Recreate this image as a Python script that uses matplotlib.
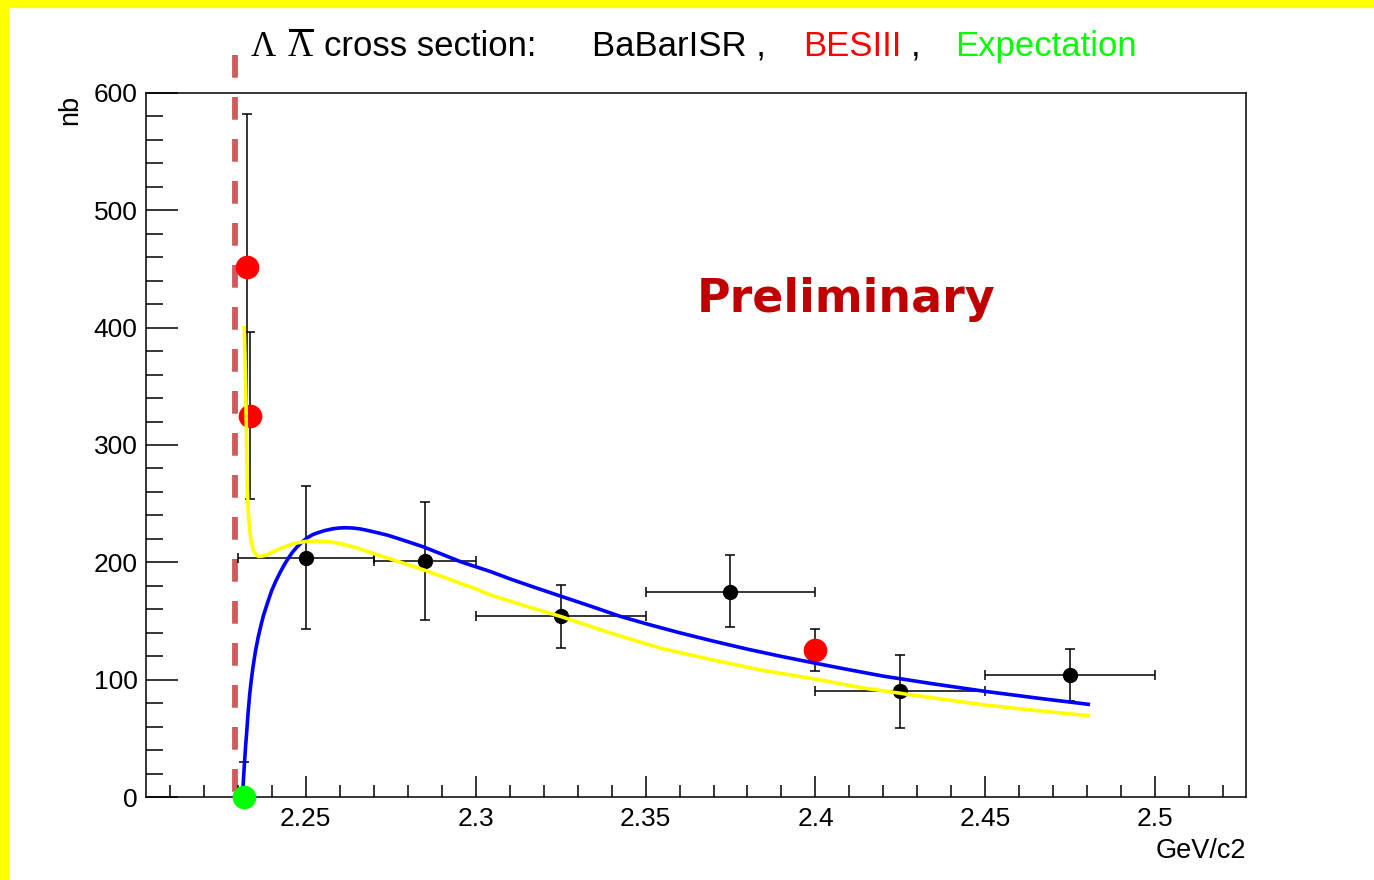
import numpy as np
import matplotlib.pyplot as plt
from matplotlib.patches import Rectangle
from matplotlib.lines import Line2D

plt.rcParams['font.family'] = ['Liberation Sans', 'DejaVu Sans']

W, H = 1374, 880

# BaBar ISR measurements (nb vs GeV/c2)
babar_x = [2.2318, 2.25, 2.285, 2.325, 2.375, 2.425, 2.475]
babar_y = [0, 204, 201, 154, 175, 90, 104]
babar_ylo = [0, 61, 50, 27, 30, 31, 22]
babar_yhi = [30, 61, 50, 27, 31, 31, 22]
babar_xerr = [0, 0.02, 0.015, 0.025, 0.025, 0.025, 0.025]

# BESIII points
bes_x = [2.2326, 2.2336, 2.4]
bes_y = [452, 325, 125]
bes_err = [130, 71, 18]

# expectation at threshold
exp_x = [2.2318]
exp_y = [0]

# model curves
blue_x = [2.2313, 2.2315, 2.2317, 2.2320, 2.2323, 2.2326, 2.2330, 2.2335,
          2.2340, 2.2345, 2.2352, 2.2360, 2.2368, 2.2375, 2.2387, 2.2400,
          2.2412, 2.2424, 2.2437, 2.2450, 2.2462, 2.2474, 2.2490, 2.2505,
          2.2520, 2.2533, 2.2555, 2.2580, 2.2600, 2.2616, 2.2640, 2.2660,
          2.2685, 2.2700, 2.2740, 2.2775, 2.2810, 2.2848, 2.2900, 2.2956,
          2.3000, 2.3045, 2.3100, 2.3170, 2.3252, 2.3340, 2.3425, 2.3510,
          2.3600, 2.3700, 2.3800, 2.3900, 2.4000, 2.4100, 2.4200, 2.4350,
          2.4500, 2.4650, 2.4803]
blue_y = [0, 6, 16, 30, 43, 54, 70, 87, 100, 111, 124, 136, 146, 154, 165,
          176, 184, 191, 198, 204, 209, 213, 217.5, 221, 223.5, 225, 227,
          228.6, 229.3, 229.5, 229.2, 228.5, 227, 226, 223.2, 220, 216.7, 213,
          207, 200.5, 196.3, 192, 186, 179, 171, 162.5, 154, 147, 140, 132.8,
          126, 119.8, 114, 108.4, 103, 96.3, 90, 84.4, 79]

yellow_x = [2.2319, 2.2321, 2.2322, 2.2324, 2.2325, 2.2327, 2.2328, 2.2331,
            2.2336, 2.2341, 2.2346, 2.2353, 2.2361, 2.2372, 2.2385, 2.2405,
            2.2430, 2.2464, 2.2500, 2.2533, 2.2570, 2.2602, 2.2650, 2.2700,
            2.2775, 2.2848, 2.2900, 2.2956, 2.3000, 2.3045, 2.3150, 2.3252,
            2.3400, 2.3547, 2.3700, 2.3843, 2.4000, 2.4138, 2.4200, 2.4300,
            2.4493, 2.4650, 2.4803]
yellow_y = [400, 378, 365, 340, 320, 290, 262, 242, 225, 216, 210, 207, 205,
            205.3, 206.3, 209, 212.3, 216, 217.8, 218.2, 217.6, 216, 212.3,
            207.5, 200.5, 193.5, 188, 182, 177.5, 172, 162.5, 153.7, 139.5,
            126.6, 116.7, 108, 100.5, 93, 90.5, 86.3, 78.6, 73.7, 69.3]

xtick_vals = [2.25, 2.3, 2.35, 2.4, 2.45, 2.5]
xtick_labels = ['2.25', '2.3', '2.35', '2.4', '2.45', '2.5']
threshold = 2.2291


def fx(px):
    return px / W


def fy(py):
    return 1 - py / H


fig = plt.figure(figsize=(13.74, 8.8), dpi=100)
ax = fig.add_axes([fx(146), fy(797), 1100 / W, 704 / H])

# threshold marker
ax.plot([threshold, threshold], [632, 0], color='#cd5c5c', lw=4.2,
        dashes=(3.9, 3.3), clip_on=False, zorder=1)

ax.errorbar(babar_x, babar_y, yerr=[babar_ylo, babar_yhi], xerr=babar_xerr,
            fmt='o', color='black', ms=10, elinewidth=1.1, capsize=3.5,
            capthick=1.1, zorder=3)
ax.errorbar(bes_x, bes_y, yerr=bes_err, fmt='o', mfc='red', mec='red',
            ecolor='black', ms=16, elinewidth=1.1, capsize=3.5,
            capthick=1.1, zorder=3)

ax.plot(blue_x, blue_y, color='blue', lw=2.6, zorder=4)
ax.plot(yellow_x, yellow_y, color='#ffff00', lw=2.6, zorder=4)
ax.plot(exp_x, exp_y, 'o', color='#00ff00', ms=16, clip_on=False, zorder=5)

ax.set_xlim(2.203, 2.5267)
ax.set_ylim(0, 600)
ax.set_xticks(xtick_vals)
ax.set_xticklabels(xtick_labels)
ax.set_xticks(np.arange(2.21, 2.525, 0.01), minor=True)
ax.set_yticks(np.arange(0, 601, 100))
ax.set_yticks(np.arange(0, 601, 20), minor=True)

ax.tick_params(axis='both', which='both', direction='in', top=False,
               right=False, width=1.1, labelsize=19)
ax.tick_params(axis='x', which='major', length=15, pad=7)
ax.tick_params(axis='x', which='minor', length=8.5)
ax.tick_params(axis='y', which='major', length=23, pad=6)
ax.tick_params(axis='y', which='minor', length=12)
for s in ax.spines.values():
    s.set_linewidth(1.1)

fig.text(fx(70), fy(110), 'nb', rotation=90, ha='center', va='center',
         size=19.5)
fig.text(fx(1246), fy(858), 'GeV/c2', ha='right', va='baseline', size=19.5)

# header line
base = fy(56)
fig.text(fx(251), base, 'Λ', family='Liberation Serif', size=25, va='baseline')
fig.text(fx(288), base, 'Λ', family='Liberation Serif', size=25, va='baseline')
fig.add_artist(Line2D([fx(290), fx(312)], [fy(30.5), fy(30.5)],
                      color='black', lw=2.2))
fig.text(fx(324), base, 'cross section:', size=25, va='baseline')
fig.text(fx(592), base, 'BaBarISR ,', size=25, va='baseline')
fig.text(fx(803), base, 'BESIII', size=25, va='baseline', color='red')
fig.text(fx(911), base, ',', size=25, va='baseline')
fig.text(fx(955), base, 'Expectation', size=25, va='baseline',
         color='#00ff00')

fig.text(fx(846.5), fy(312), 'Preliminary', color='#c00000',
         family='DejaVu Sans', weight='bold', size=33, ha='center',
         va='baseline')

# yellow slide edges
fig.add_artist(Rectangle((0, 0), fx(7.5), 1, transform=fig.transFigure,
                         color='yellow', zorder=10))
fig.add_artist(Rectangle((0, fy(7)), 1, 7 / H, transform=fig.transFigure,
                         color='yellow', zorder=10))

fig.savefig('out.png', dpi=100)
